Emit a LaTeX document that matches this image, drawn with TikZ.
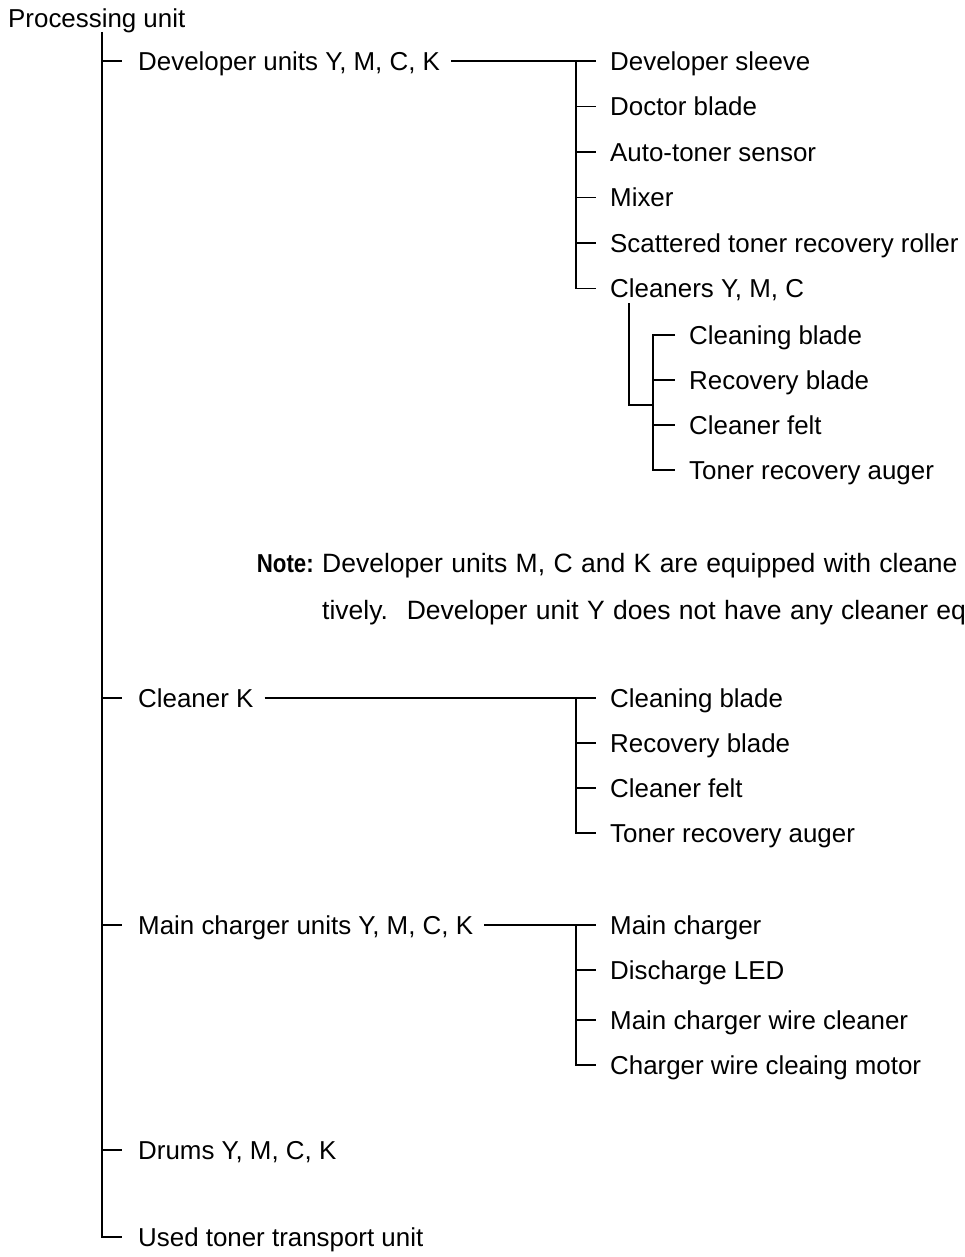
\documentclass[tikz,border=0pt]{standalone}
\usepackage{fontspec}
\setmainfont{Liberation Sans}
\begin{document}
\begin{tikzpicture}[x=1pt,y=-1pt,
  lbl/.style={anchor=west, inner sep=0pt, text height=18.5pt, text depth=0pt,
              font=\fontsize{25.9}{31}\selectfont},
  notetext/.style={lbl, font=\fontsize{26.5}{31}\selectfont,
              execute at begin node={\spaceskip=8.4pt plus 0pt minus 0pt\relax}},
  link/.style={line width=1.1pt, black}]
\useasboundingbox (0,0) rectangle (964,1257);
\clip (0,0) rectangle (964,1257);

% root
\node[lbl] (root) at (8,18) {Processing unit};
\coordinate (spine) at (102,32);

% first level
\node[lbl] (dev)  at (138,61)   {Developer units Y, M, C, K};
\node[lbl] (clk)  at (138,698)  {Cleaner K};
\node[lbl] (mcu)  at (138,925)  {Main charger units Y, M, C, K};
\node[lbl] (drum) at (138,1150) {Drums Y, M, C, K};
\node[lbl] (used) at (138,1237) {Used toner transport unit};

\draw[link] (spine) |- ([xshift=-16]used.west);
\foreach \n in {dev,clk,mcu,drum}
  \draw[link] (\n.west -| spine) -- ([xshift=-16]\n.west);

% developer units
\node[lbl] (sleeve)   at (610,61)    {Developer sleeve};
\node[lbl] (doctor)   at (610,106.5) {Doctor blade};
\node[lbl] (auto)     at (610,152)   {Auto-toner sensor};
\node[lbl] (mixer)    at (610,197.5) {Mixer};
\node[lbl] (scat)     at (610,243)   {Scattered toner recovery roller};
\node[lbl] (cleaners) at (610,288.5) {Cleaners Y, M, C};

\draw[link] ([xshift=11]dev.east) -- ([xshift=-14]sleeve.west);
\draw[link] ([xshift=-34]sleeve.west) |- ([xshift=-14]cleaners.west);
\foreach \n in {doctor,auto,mixer,scat}
  \draw[link] ([xshift=-34]\n.west) -- ([xshift=-14]\n.west);

% cleaners Y, M, C
\node[lbl] (cb)  at (689,335) {Cleaning blade};
\node[lbl] (rb)  at (689,380) {Recovery blade};
\node[lbl] (cf)  at (689,425) {Cleaner felt};
\node[lbl] (tra) at (689,470) {Toner recovery auger};

\coordinate (cj) at ([xshift=19pt,yshift=-5.5pt]cleaners.south west);
\coordinate (cs) at (653,405);
\draw[link] (cj) |- (cs);
\draw[link] ([xshift=-14]cb.west) -| ([xshift=-36]tra.west) -- ([xshift=-14]tra.west);
\foreach \n in {rb,cf}
  \draw[link] ([xshift=-36]\n.west) -- ([xshift=-14]\n.west);

% note
\node[lbl, anchor=east] (notehead) at (314,563) {\scalebox{0.86}[1]{\bfseries Note:}};
\node[notetext] (noteA) at (322,563) {Developer units M, C and K are equipped with cleane};
\node[notetext] (noteB) at (322,610) {tively.\hspace{0.3em} Developer unit Y does not have any cleaner eq};

% cleaner K
\node[lbl] (kcb)  at (610,698) {Cleaning blade};
\node[lbl] (krb)  at (610,743) {Recovery blade};
\node[lbl] (kcf)  at (610,788) {Cleaner felt};
\node[lbl] (ktra) at (610,833) {Toner recovery auger};

\draw[link] ([xshift=11]clk.east) -- ([xshift=-14]kcb.west);
\draw[link] ([xshift=-34]kcb.west) |- ([xshift=-14]ktra.west);
\foreach \n in {krb,kcf}
  \draw[link] ([xshift=-34]\n.west) -- ([xshift=-14]\n.west);

% main charger units
\node[lbl] (mc)  at (610,925)  {Main charger};
\node[lbl] (led) at (610,970)  {Discharge LED};
\node[lbl] (mwc) at (610,1020) {Main charger wire cleaner};
\node[lbl] (cwm) at (610,1065) {Charger wire cleaing motor};

\draw[link] ([xshift=11]mcu.east) -- ([xshift=-14]mc.west);
\draw[link] ([xshift=-34]mc.west) |- ([xshift=-14]cwm.west);
\foreach \n in {led,mwc}
  \draw[link] ([xshift=-34]\n.west) -- ([xshift=-14]\n.west);
\end{tikzpicture}
\end{document}
